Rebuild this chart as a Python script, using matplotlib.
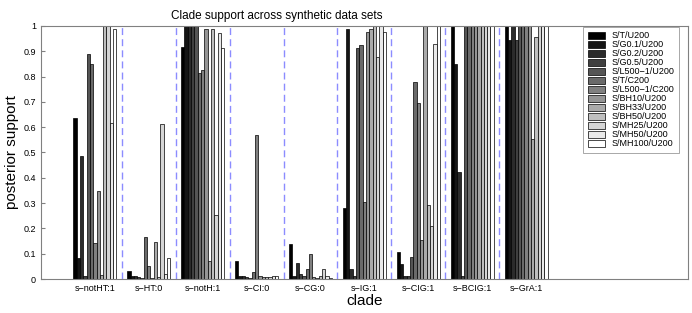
import matplotlib
matplotlib.use('Agg')
import matplotlib.pyplot as plt
import numpy as np

plt.rcParams['font.family'] = ['Liberation Sans', 'DejaVu Sans']

clades = ['s\u2212notHT:1', 's\u2212HT:0', 's\u2212notH:1', 's\u2212CI:0', 's\u2212CG:0', 's\u2212IG:1',
          's\u2212CIG:1', 's\u2212BCIG:1', 's\u2212GrA:1']
series = ['S/T/U200', 'S/G0.1/U200', 'S/G0.2/U200', 'S/G0.5/U200', 'S/L500\u22121/U200', 'S/T/C200',
          'S/L500\u22121/C200', 'S/BH10/U200', 'S/BH33/U200', 'S/BH50/U200', 'S/MH25/U200',
          'S/MH50/U200', 'S/MH100/U200']

# one row per clade, one value per series
notHT1 = [0.638, 0.084, 0.486, 0.012, 0.889, 0.851, 0.144, 0.348, 0.015, 1.0, 1.0, 0.615, 0.987]
HT0 = [0.033, 0.012, 0.012, 0.008, 0.004, 0.167, 0.051, 0.005, 0.148, 0.008, 0.611, 0.02, 0.083]
notH1 = [0.916, 1.0, 1.0, 1.0, 1.0, 0.813, 0.826, 0.99, 0.071, 0.987, 0.253, 0.974, 0.912]
CI0 = [0.071, 0.012, 0.012, 0.008, 0.005, 0.028, 0.569, 0.01, 0.006, 0.006, 0.008, 0.011, 0.011]
CG0 = [0.137, 0.012, 0.064, 0.02, 0.012, 0.04, 0.10, 0.008, 0.005, 0.012, 0.04, 0.01, 0.005]
IG1 = [0.279, 0.987, 0.038, 0.012, 0.912, 0.925, 0.303, 0.977, 0.99, 1.0, 0.876, 1.0, 0.977]
CIG1 = [0.105, 0.058, 0.012, 0.012, 0.086, 0.777, 0.697, 0.154, 1.0, 0.292, 0.209, 0.929, 1.0]
BCIG1 = [1.0, 0.849, 0.422, 0.01, 1.0, 1.0, 1.0, 1.0, 1.0, 1.0, 1.0, 1.0, 1.0]
GrA1 = [1.0, 0.945, 1.0, 0.945, 1.0, 1.0, 1.0, 1.0, 0.553, 0.955, 1.0, 1.0, 1.0]

data = np.array([notHT1, HT0, notH1, CI0, CG0, IG1, CIG1, BCIG1, GrA1])

fig = plt.figure(figsize=(6.92, 3.13), dpi=100)
ax = fig.add_axes([0.0592, 0.1086, 0.9348, 0.8084])

x = np.arange(1, len(clades) + 1)
nser = len(series)
gw = 0.8
w = gw / nser
for j in range(nser):
    g = j / (nser - 1)
    ax.bar(x - gw / 2 + w * (j + 0.5), data[:, j], width=w, color=(g, g, g),
           edgecolor='black', linewidth=0.5, label=series[j])

for k in range(len(clades) - 1):
    ax.axvline(k + 1.5, color='#8c8cff', linestyle=(0, (5, 3)), linewidth=1)

ax.set_xlim(0, 12)
ax.set_ylim(0, 1)
ax.set_xticks(x)
ax.set_xticklabels(clades, fontsize=6.5)
yt = np.arange(0, 1.01, 0.1)
ax.set_yticks(yt)
ax.set_yticklabels(['0'] + ['%.1f' % v for v in yt[1:-1]] + ['1'], fontsize=6.5)
ax.tick_params(direction='in', length=3, color='#808080')
for s in ax.spines.values():
    s.set_color('#808080')

ax.set_title('Clade support across synthetic data sets', fontsize=8.5, pad=5, x=0.365)
ax.set_xlabel('clade', fontsize=11, labelpad=1)
ax.set_ylabel('posterior support', fontsize=11, labelpad=3)

leg = ax.legend(loc='upper right', fontsize=6.5, frameon=True, fancybox=False,
                edgecolor='#808080', handlelength=1.9, handleheight=0.8,
                labelspacing=0.0, borderpad=0.5, handletextpad=0.75,
                borderaxespad=0.1, bbox_to_anchor=(0.988, 1.0))
leg.get_frame().set_linewidth(0.6)

plt.savefig('out.png', dpi=100)
